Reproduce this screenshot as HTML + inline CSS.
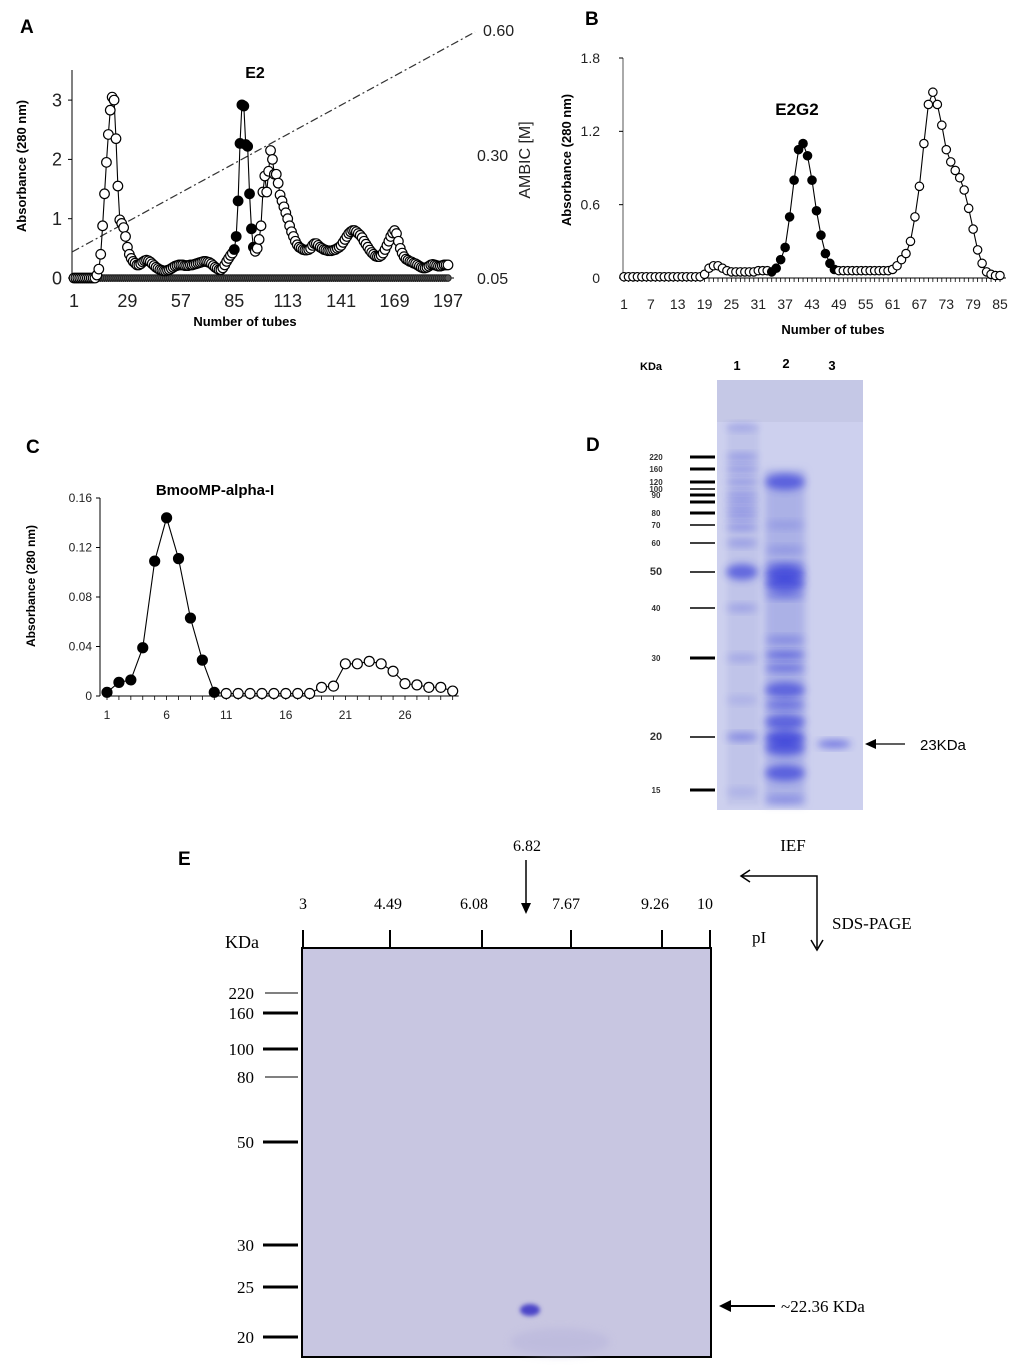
<!DOCTYPE html>
<html><head><meta charset="utf-8"><style>
html,body{margin:0;padding:0;background:#fff}
svg{display:block}
.s{font-family:"Liberation Sans",Arial,sans-serif}
.t{font-family:"Liberation Serif","Times New Roman",serif}
</style></head><body>
<svg id="fig" width="1024" height="1366" viewBox="0 0 1024 1366" xmlns="http://www.w3.org/2000/svg">
<defs>
<filter id="bl" x="-50%" y="-50%" width="200%" height="200%"><feGaussianBlur stdDeviation="2"/></filter>
<filter id="bl2" x="-50%" y="-50%" width="200%" height="200%"><feGaussianBlur stdDeviation="4"/></filter>
</defs>
<g class="s" font-weight="bold" font-size="19">
<text x="20" y="33">A</text>
<text x="585" y="25">B</text>
<text x="26" y="453">C</text>
<text x="586" y="451">D</text>
<text x="178" y="865">E</text>
</g>

<g id="pa">
<line x1="72" y1="70" x2="72" y2="278" stroke="#000" stroke-width="1"/>
<line x1="72" y1="252" x2="475" y2="32" stroke="#333" stroke-width="1.2" stroke-dasharray="8,3,2,3"/>
<text class="s" x="255" y="78" font-size="16" font-weight="bold" text-anchor="middle">E2</text>
<text class="s" x="245" y="326" font-size="13" font-weight="bold" text-anchor="middle">Number of tubes</text>
<text class="s" transform="translate(26,166) rotate(-90)" font-size="13" font-weight="bold" text-anchor="middle">Absorbance (280 nm)</text>
<text class="s" x="483" y="36" font-size="16" fill="#222">0.60</text>
<text class="s" x="477" y="161" font-size="16" fill="#222">0.30</text>
<text class="s" x="477" y="284" font-size="16" fill="#222">0.05</text>
<text class="s" transform="translate(530,160) rotate(-90)" font-size="16" fill="#222" text-anchor="middle">AMBIC [M]</text>
</g>

<g id="pb">
<line x1="623" y1="58" x2="623" y2="278" stroke="#555" stroke-width="1"/>
<text class="s" x="797" y="115" font-size="17" font-weight="bold" text-anchor="middle">E2G2</text>
<text class="s" x="833" y="334" font-size="13" font-weight="bold" text-anchor="middle">Number of tubes</text>
<text class="s" transform="translate(571,160) rotate(-90)" font-size="13" font-weight="bold" text-anchor="middle">Absorbance (280 nm)</text>
</g>

<g id="pc">
<line x1="100" y1="498" x2="100" y2="696" stroke="#000" stroke-width="1"/>
<text class="s" x="215" y="495" font-size="15" font-weight="bold" text-anchor="middle">BmooMP-alpha-I</text>
<text class="s" transform="translate(35,586) rotate(-90)" font-size="12" font-weight="bold" text-anchor="middle">Absorbance (280 nm)</text>
</g>

<g id="pd">
<text class="s" x="640" y="370" font-size="11" font-weight="bold">KDa</text>
<text class="s" x="737" y="370" font-size="13" font-weight="bold" text-anchor="middle">1</text>
<text class="s" x="786" y="368" font-size="13" font-weight="bold" text-anchor="middle">2</text>
<text class="s" x="832" y="370" font-size="13" font-weight="bold" text-anchor="middle">3</text>
<rect x="717" y="380" width="146" height="430" fill="#cdd0ee"/>
<rect x="717" y="380" width="146" height="42" fill="#c5c8e6"/>
<g id="dbands"></g>
<g id="dmark"></g>
<line x1="905" y1="744" x2="870" y2="744" stroke="#000" stroke-width="1.3"/>
<polygon points="865,744 876,739 876,749" fill="#000"/>
<text class="s" x="920" y="750" font-size="15">23KDa</text>
</g>

<g id="pe">
<rect x="302" y="948" width="409" height="409" fill="#c8c6e1" stroke="#000" stroke-width="2"/>
<ellipse cx="560" cy="1342" rx="50" ry="14" fill="#b6b3db" filter="url(#bl2)" opacity="0.5"/>
<ellipse cx="530" cy="1310" rx="10" ry="6" fill="#4b45c8" filter="url(#bl)"/>
<line x1="302" y1="948" x2="711" y2="948" stroke="#000" stroke-width="2"/>
<g id="etop"></g>
<g id="eleft"></g>
<text class="t" x="225" y="948" font-size="18">KDa</text>
<text class="t" x="527" y="851" font-size="16" text-anchor="middle">6.82</text>
<line x1="526" y1="860" x2="526" y2="906" stroke="#000" stroke-width="1.5"/>
<polygon points="526,914 521,903 531,903" fill="#000"/>
<text class="t" x="793" y="851" font-size="17" text-anchor="middle">IEF</text>
<path d="M742,876 L817,876 L817,948" fill="none" stroke="#000" stroke-width="1.5"/>
<path d="M750,870 L741,876 L750,882" fill="none" stroke="#000" stroke-width="1.5"/>
<path d="M811,940 L817,950 L823,940" fill="none" stroke="#000" stroke-width="1.5"/>
<text class="t" x="832" y="929" font-size="17">SDS-PAGE</text>
<text class="t" x="752" y="943" font-size="17">pI</text>
<line x1="775" y1="1306" x2="728" y2="1306" stroke="#000" stroke-width="2"/>
<polygon points="719,1306 731,1300 731,1312" fill="#000"/>
<text class="t" x="781" y="1312" font-size="17">~22.36 KDa</text>
</g>
</svg>
<script>
const NS="http://www.w3.org/2000/svg";
function mk(parent,tag,attrs){const e=document.createElementNS(NS,tag);for(const k in attrs)e.setAttribute(k,attrs[k]);parent.appendChild(e);return e;}

const aTicksX=[1,29,57,85,113,141,169,197];
const aTicksY=[0,1,2,3];
const aValues=[0,0,0,0,0,0,0,0,0,0,0,0,
0.05,0.15,0.4,0.88,1.42,1.95,2.42,2.83,3.05,3.0,2.35,1.55,0.98,0.92,0.85,0.7,0.52,0.4,0.33,0.28,0.25,0.22,0.22,
0.24,0.27,0.29,0.3,0.29,0.27,0.24,0.21,0.18,0.16,0.14,0.13,0.12,0.12,0.13,
0.14,0.16,0.18,0.2,0.21,0.22,0.22,0.22,0.21,0.21,0.21,0.22,0.22,0.23,0.24,
0.25,0.26,0.27,0.28,0.28,0.27,0.26,0.24,0.21,0.18,0.16,0.14,0.14,0.17,0.22,0.28,0.33,0.38,0.42,
0.48,0.7,1.3,2.27,2.92,2.9,2.25,2.22,1.42,0.83,0.52,
0.45,0.5,0.65,0.88,1.45,1.72,1.45,1.8,2.15,2.0,1.75,1.75,1.6,1.4,1.3,1.2,1.1,1.0,0.88,0.78,0.7,0.62,0.56,0.52,0.5,0.48,0.47,0.47,0.48,0.5,0.55,0.58,0.58,0.55,0.52,
0.5,0.48,0.47,0.46,0.46,0.46,0.47,0.48,0.5,0.52,0.55,0.6,0.65,0.7,0.75,0.78,0.8,0.8,0.78,0.75,
0.72,0.68,0.62,0.57,0.52,0.47,0.43,0.4,0.37,0.36,0.36,0.38,0.42,0.48,0.55,0.62,0.7,0.76,0.8,0.75,0.62,0.5,0.42,0.36,0.32,
0.3,0.28,0.27,0.25,0.24,0.22,0.2,0.18,0.17,0.17,0.18,0.2,0.22,0.23,0.22,0.21,0.2,0.2,0.21,0.22,0.22,0.22];
const aFilledStart=85, aFilledEnd=95;
const aX=t=>74+(t-1)*(374/196);
const aY=v=>278-v*59.3;

const bTicksX=[1,7,13,19,25,31,37,43,49,55,61,67,73,79,85];
const bTicksY=[0,0.6,1.2,1.8];
const bValues=[0.01,0.01,0.01,0.01,0.01,0.01,0.01,0.01,0.01,0.01,0.01,0.01,0.01,0.01,0.01,0.01,0.01,0.01,
0.03,0.08,0.1,0.1,0.08,0.06,0.05,0.05,0.05,0.05,0.05,0.05,0.06,0.06,0.06,
0.05,0.08,0.15,0.25,0.5,0.8,1.05,1.1,1.0,0.8,0.55,0.35,0.2,0.12,0.07,
0.06,0.06,0.06,0.06,0.06,0.06,0.06,0.06,0.06,0.06,0.06,0.06,0.07,0.1,0.15,0.2,0.3,0.5,0.75,1.1,1.42,1.52,1.42,1.25,1.05,0.95,0.88,0.82,0.72,0.57,0.4,0.23,0.12,0.05,0.03,0.02,0.02];
const bFilledStart=34, bFilledEnd=48;
const bX=t=>624+(t-1)*(376/84);
const bY=v=>278-v*(220/1.8);

const cTicksX=[1,6,11,16,21,26];
const cTicksY=[0,0.04,0.08,0.12,0.16];
const cValues=[0.003,0.011,0.013,0.039,0.109,0.144,0.111,0.063,0.029,0.003,
0.002,0.002,0.002,0.002,0.002,0.002,0.002,0.002,0.007,0.008,0.026,0.026,0.028,0.026,0.02,0.01,0.009,0.007,0.007,0.004];
const cFilledStart=1, cFilledEnd=10;
const cX=t=>107+(t-1)*(298/25);
const cY=v=>696-v*(198/0.16);

const dMarkerKDa=["220","160","120","100","90","","80","70","60","50","40","30","20","15"];
const dMarkerY=[457,469,482,489,495,502,513,525,543,572,608,658,737,790];

const ePI=["3","4.49","6.08","7.67","9.26","10"];
const eKDa=["220","160","100","80","50","30","25","20"];

function chart(gid,vals,fs,fe,X,Y,r,ticksX,ticksY,ax,tfs,tickLabelY,ylabX,yFmt,markZero){
  const g=document.getElementById(gid);
  const y0=Y(0);
  const xEnd=X(vals.length)+6;
  const xa=mk(g,'line',{x1:X(1)-4,y1:y0,x2:xEnd,y2:y0,stroke:'#000','stroke-width':1});
  
  
  ticksY.forEach(v=>{
    const tl=mk(g,'line',{x1:ax-4,y1:Y(v),x2:ax,y2:Y(v),stroke:'#000'});
    
    
    const t=mk(g,'text',{x:ylabX,y:Y(v)+tfs*0.35,'font-size':tfs,'text-anchor':'end',class:'s',fill:'#222'});
    t.textContent=yFmt(v);
    
    
  });
  for(let i=1;i<=vals.length;i++){
    const tk=mk(g,'line',{x1:X(i),y1:y0,x2:X(i),y2:y0+4,stroke:'#000','stroke-width':0.8});
    
    
  }
  ticksX.forEach(v=>{
    const t=mk(g,'text',{x:X(v),y:tickLabelY,'font-size':tfs,'text-anchor':'middle',class:'s',fill:'#222'});
    t.textContent=v;
    
    
  });
  if(markZero){
    for(let i=1;i<=vals.length;i++){
      const z=mk(g,'circle',{cx:X(i),cy:y0,r:3.2,fill:'#555',stroke:'#222','stroke-width':1});
      
      
    }
  }
  const pts=vals.map((v,i)=>X(i+1)+','+Y(v)).join(' ');
  const pl=mk(g,'polyline',{points:pts,fill:'none',stroke:'#000','stroke-width':1.1});
  
  
  vals.forEach((v,i)=>{
    const t=i+1;const filled=t>=fs&&t<=fe;
    const c=mk(g,'circle',{cx:X(t),cy:Y(v),r:r,fill:filled?'#000':'#fff',stroke:'#000','stroke-width':1.2});
    
    
  });
}
chart('pa',aValues,aFilledStart,aFilledEnd,aX,aY,4.8,aTicksX,aTicksY,72,18,307,62,v=>String(v),true);
chart('pb',bValues,bFilledStart,bFilledEnd,bX,bY,4.2,bTicksX,bTicksY,623,14,309,600,v=>v===0?'0':v.toFixed(1),false);
chart('pc',cValues,cFilledStart,cFilledEnd,cX,cY,5,cTicksX,cTicksY,100,12,719,92,v=>v===0?'0':v.toFixed(2),false);

(function(){
  const m=document.getElementById('dmark');
  const thick=[1,1,1,0,1,1,1,0,0,0,0,1,0,1];
  dMarkerY.forEach((y,i)=>{
    const l=mk(m,'line',{x1:690,y1:y,x2:715,y2:y,stroke:'#000','stroke-width':thick[i]?3:1.5});
    
    
    if(dMarkerKDa[i]){
      const big=dMarkerKDa[i]==='50'||dMarkerKDa[i]==='20';
      const t=mk(m,'text',{x:656,y:y+3,'font-size':big?11:8,'text-anchor':'middle',class:'s','font-weight':'bold',fill:'#333'});
      t.textContent=dMarkerKDa[i];
      
      
    }
  });
  const b=document.getElementById('dbands');
  const lane1=[[427,0.3],[457,0.4],[469,0.4],[482,0.4],[495,0.45],[505,0.45],[515,0.5],[527,0.45],[543,0.4],[572,0.9],[608,0.35],[658,0.3],[700,0.2],[737,0.6],[792,0.2]];
  const lane2=[[482,0.9],[525,0.25],[550,0.3],[566,0.6],[574,1],[584,0.95],[595,0.6],[640,0.45],[655,0.8],[668,0.7],[690,0.85],[705,0.8],[722,0.85],[738,1],[748,0.9],[773,0.9],[800,0.4]];
  const lane3=[[744,0.8]];
  mk(b,'rect',{x:727,y:425,width:32,height:380,fill:'#b9bde6',opacity:0.6,filter:'url(#bl)'});
  mk(b,'rect',{x:765,y:470,width:40,height:335,fill:'#9ea4e4',opacity:0.7,filter:'url(#bl2)'});
  [[lane1,742,16],[lane2,785,20],[lane3,834,17]].forEach(([arr,cx,rx])=>{
    arr.forEach(([y,a])=>{
      const e=mk(b,'ellipse',{cx:cx,cy:y,rx:rx,ry:a>0.8?8:4,fill:'#2a32d8',opacity:a*0.7,filter:'url(#bl2)'});
      
      
    });
  });
})();

(function(){
  const top=document.getElementById('etop');
  const px=[303,390,482,571,662,710];
  const pxL=[303,388,474,566,655,705];
  ePI.forEach((p,i)=>{
    const l=mk(top,'line',{x1:px[i],y1:930,x2:px[i],y2:948,stroke:'#000','stroke-width':2});
    
    
    const t=mk(top,'text',{x:pxL[i],y:909,'font-size':16,'text-anchor':'middle',class:'t'});
    t.textContent=p;
    
    
  });
  const left=document.getElementById('eleft');
  const ky=[993,1013,1049,1077,1142,1245,1287,1337];
  const thin=[1,0,0,1,0,0,0,0];
  eKDa.forEach((k,i)=>{
    const l=mk(left,'line',{x1:thin[i]?265:263,y1:ky[i],x2:298,y2:ky[i],stroke:'#000','stroke-width':thin[i]?1:3});
    
    
    const t=mk(left,'text',{x:254,y:ky[i]+6,'font-size':17,'text-anchor':'end',class:'t'});
    t.textContent=k;
    
    
  });
})();
</script>
</body></html>
